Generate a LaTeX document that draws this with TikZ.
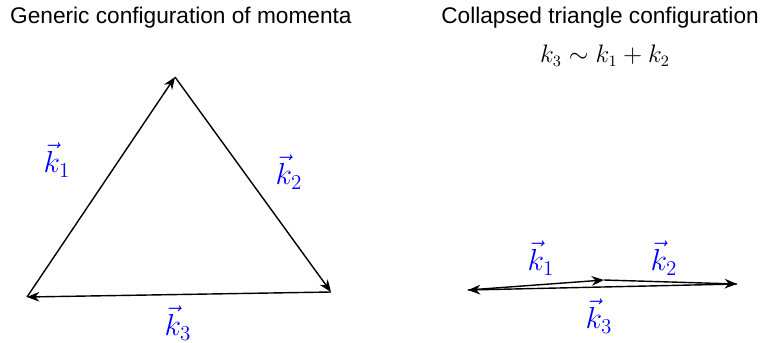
\documentclass[tikz,border=0pt]{standalone}
\usepackage{fontspec}
\setsansfont{Liberation Sans}
\usetikzlibrary{arrows.meta}
\begin{document}
\begin{tikzpicture}[x=0.02cm,y=-0.02cm,
  vecarrow/.style={-{Stealth[length=7pt,width=5.5pt]},thick},
  veclabel/.style={text=blue,font=\LARGE},
  titletext/.style={font=\sffamily\fontsize{12.9}{15}\selectfont}]
  \useasboundingbox (0,0) rectangle (764,342);
  \node[titletext,anchor=west] (titleA) at (4,18) {Generic configuration of momenta};
  \node[titletext,anchor=east] (titleB) at (765,18) {Collapsed triangle configuration};
  \node[font=\fontsize{13.4}{16}\selectfont] (relation) at (605,56) {$k_3 \sim k_1 + k_2$};
  \coordinate (a) at (27,297);
  \coordinate (b) at (175,77);
  \coordinate (c) at (331,292);
  \draw[vecarrow] (a) -- (b);
  \draw[vecarrow] (b) -- (c);
  \draw[vecarrow] (c) -- (a);
  \node[veclabel] (ka) at (57,160) {$\vec{k}_1$};
  \node[veclabel] (kb) at (289,172) {$\vec{k}_2$};
  \node[veclabel] (kc) at (178,323) {$\vec{k}_3$};
  \coordinate (d) at (468,290);
  \coordinate (e) at (604,280);
  \coordinate (f) at (737,284);
  \draw[vecarrow] (d) -- (e);
  \draw[vecarrow] (e) -- (f);
  \draw[vecarrow] (f) -- (d);
  \node[veclabel] (kd) at (541,258) {$\vec{k}_1$};
  \node[veclabel] (ke) at (664,258) {$\vec{k}_2$};
  \node[veclabel] (kf) at (599,316) {$\vec{k}_3$};
\end{tikzpicture}
\end{document}
